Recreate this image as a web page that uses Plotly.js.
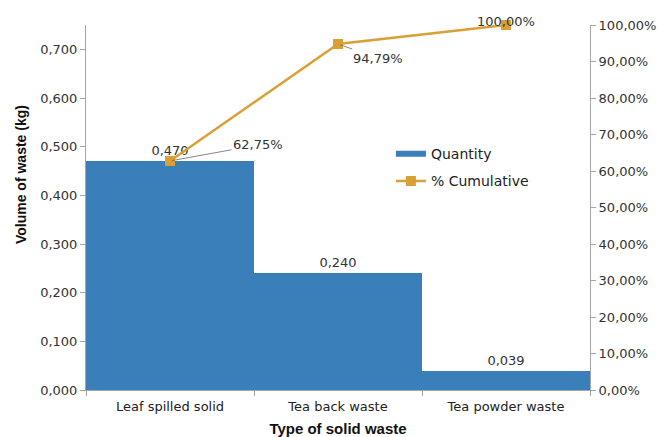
<!DOCTYPE html>
<html>
<head>
<meta charset="utf-8">
<script src="https://cdn.plot.ly/plotly-3.0.1.min.js"></script>
<style>html,body{margin:0;padding:0;background:#fff;}#chart{width:664px;height:437px;}</style>
</head>
<body>
<div id="chart"></div>
<script>
const categories = ["Leaf spilled solid", "Tea back waste", "Tea powder waste"];
const quantity = [0.470, 0.240, 0.039];
const cumulative = [0.6275, 0.9479, 1.0000];
const seriesNames = ["Quantity", "% Cumulative"];

const fmtPct = v => (v * 100).toFixed(2).replace(".", ",") + "%";

const barColor = "#3A7FBA";
const lineColor = "#D9A035";
const tickFont = {family: "DejaVu Sans", size: 13, color: "#333"};

const traces = [
  {
    type: "bar", x: categories, y: quantity, name: seriesNames[0],
    marker: {color: barColor}, showlegend: false,
    texttemplate: "%{y:.3f}", textposition: "outside",
    textfont: {family: "DejaVu Sans", size: 13, color: "#333"},
    cliponaxis: false
  },
  {
    // legend key only: a wide flat bar swatch like the reference
    type: "scatter", mode: "lines", x: [null], y: [null], name: seriesNames[0],
    legendgroup: "a", line: {color: barColor, width: 6}
  },
  {
    type: "scatter", mode: "lines+markers", x: categories, y: cumulative,
    name: seriesNames[1], yaxis: "y2", legendgroup: "b",
    line: {color: lineColor, width: 2.5},
    marker: {symbol: "square", size: 10, color: lineColor},
    cliponaxis: false
  }
];

const offsets = [[88, -16, true], [40, 14, true], [0, 0, false]];
const annotations = cumulative.map((v, i) => {
  const o = offsets[i];
  const a = {
    x: categories[i], y: v, xref: "x", yref: "y2",
    text: fmtPct(v), font: {family: "DejaVu Sans", size: 13, color: "#333"},
    showarrow: o[2]
  };
  if (o[2]) {
    Object.assign(a, {ax: o[0], ay: o[1], arrowhead: 0, arrowwidth: 0.8, arrowcolor: "#666", standoff: 2});
  } else {
    Object.assign(a, {yshift: 4});
  }
  return a;
});
annotations.push({
  text: "Volume of waste (kg)", textangle: -90, xref: "paper", yref: "paper",
  x: -0.15, y: 0.59, showarrow: false,
  font: {family: "Liberation Sans", size: 14, color: "#111", weight: "bold"}
});

const axisLine = "#a6a6a6";
const layout = {
  width: 664, height: 437,
  margin: {l: 86, r: 74, t: 25, b: 47},
  paper_bgcolor: "#fff", plot_bgcolor: "#fff",
  separators: ",.",
  bargap: 0,
  showlegend: true,
  legend: {x: 0.605, y: 0.69, xanchor: "left", yanchor: "top", bgcolor: "rgba(0,0,0,0)",
           font: {family: "DejaVu Sans", size: 14, color: "#222"}, traceorder: "grouped", tracegroupgap: 6},
  xaxis: {
    type: "category", tickson: "boundaries", ticks: "outside", ticklen: 5, tickcolor: axisLine,
    showline: true, linecolor: axisLine, showgrid: false, ticklabelstandoff: 4,
    tickfont: {family: "DejaVu Sans", size: 13, color: "#222"},
    title: {text: "Type of solid waste", font: {family: "Liberation Sans", size: 15, color: "#111", weight: "bold"}, standoff: 12}
  },
  yaxis: {
    range: [0, 0.75], dtick: 0.1, tickformat: ".3f", ticks: "outside", ticklen: 5, tickcolor: axisLine,
    showline: true, linecolor: axisLine, showgrid: false, zeroline: false, tickfont: tickFont
  },
  yaxis2: {
    overlaying: "y", side: "right", range: [0, 1], dtick: 0.1, tickformat: ".2%",
    ticks: "outside", ticklen: 5, tickcolor: axisLine, showline: true, linecolor: axisLine,
    showgrid: false, zeroline: false, tickfont: tickFont
  },
  annotations: annotations
};

Plotly.newPlot("chart", traces, layout, {displayModeBar: false, staticPlot: true});
</script>
</body>
</html>
